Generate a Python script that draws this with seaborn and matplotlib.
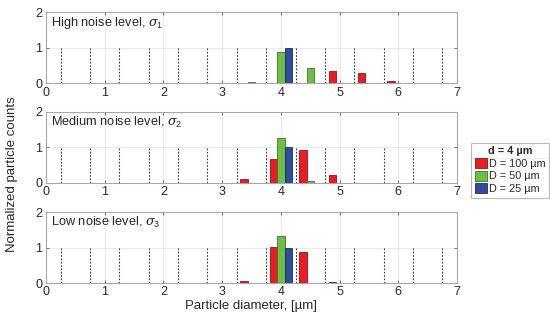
import numpy as np
import pandas as pd
import matplotlib
matplotlib.use('Agg')
import matplotlib.pyplot as plt
import matplotlib.colors as mcolors
from matplotlib.lines import Line2D
import seaborn as sns

# ---- data ----
bins = [3.5, 4.0, 4.5, 5.0, 5.5, 6.0, 6.5]
series = ["D = 100 µm", "D = 50 µm", "D = 25 µm"]

high_d100 = [0.00, 0.00, 0.00, 0.35, 0.28, 0.06, 0.01]
high_d50 = [0.03, 0.88, 0.42, 0.00, 0.00, 0.00, 0.00]
high_d25 = [0.00, 1.00, 0.00, 0.00, 0.00, 0.00, 0.00]

med_d100 = [0.10, 0.68, 0.93, 0.22, 0.01, 0.00, 0.00]
med_d50 = [0.00, 1.27, 0.05, 0.00, 0.00, 0.00, 0.00]
med_d25 = [0.00, 1.00, 0.00, 0.00, 0.00, 0.00, 0.00]

low_d100 = [0.06, 1.02, 0.87, 0.03, 0.00, 0.00, 0.00]
low_d50 = [0.00, 1.32, 0.00, 0.00, 0.00, 0.00, 0.00]
low_d25 = [0.00, 1.00, 0.00, 0.00, 0.00, 0.00, 0.00]

panel_titles = ["High noise level, $\\sigma_1$",
                "Medium noise level, $\\sigma_2$",
                "Low noise level, $\\sigma_3$"]
panel_values = [(high_d100, high_d50, high_d25),
                (med_d100, med_d50, med_d25),
                (low_d100, low_d50, low_d25)]

# dotted bin edges
bin_edges = np.arange(0.25, 7.0, 0.5)

colors = ["#ed1c24", "#6dbe45", "#2e4da0"]

sns.set_style("white")
plt.rcParams['font.family'] = ['Liberation Sans', 'DejaVu Sans']
plt.rcParams['mathtext.fontset'] = 'custom'
plt.rcParams['mathtext.it'] = 'DejaVu Serif:italic'
plt.rcParams['mathtext.rm'] = 'Liberation Sans'

fig = plt.figure(figsize=(5.5, 3.22), dpi=100)
left, width, height = 0.0836, 0.7473, 0.2205
bottoms = [0.742, 0.4317, 0.1211]

for i, (title, vals) in enumerate(zip(panel_titles, panel_values)):
    ax = fig.add_axes([left, bottoms[i], width, height])
    rows = []
    for name, v in zip(series, vals):
        for b, y in zip(bins, v):
            if y > 0:
                rows.append({"bin": b, "series": name, "count": y})
    df = pd.DataFrame(rows)

    ax.grid(True, color="#e6e6e6", lw=0.6)
    ax.set_axisbelow(True)
    ax.vlines(bin_edges, 0, 1, colors="#333333", linestyles=(0, (1.5, 1.5)),
              lw=0.8, zorder=1)

    sns.barplot(data=df, x="bin", y="count", hue="series", hue_order=series,
                palette=colors, native_scale=True, width=0.75, errorbar=None,
                legend=False, saturation=1, ax=ax, zorder=3)
    for p in ax.patches:
        fc = np.array(mcolors.to_rgb(p.get_facecolor()))
        p.set_edgecolor(fc * 0.6)
        p.set_linewidth(0.6)

    ax.set_xlim(0, 7)
    ax.set_ylim(0, 2)
    ax.set_xticks(range(8))
    ax.set_yticks([0, 1, 2])
    ax.set_xlabel("")
    ax.set_ylabel("")
    ax.tick_params(direction="in", length=2.5, width=0.6, color="#555555",
                   labelsize=9, pad=2.5, top=True, right=True, bottom=True, left=True)
    for s in ax.spines.values():
        s.set_color("#a6a6a6")
        s.set_linewidth(0.8)
    ax.text(0.012, 0.85, title, transform=ax.transAxes, fontsize=9.2,
            va="center", ha="left")

    if i == 2:
        ax.set_xlabel("Particle diameter, [µm]", fontsize=9.5, labelpad=1)

fig.text(0.022, 0.46, "Normalized particle counts", rotation=90,
         fontsize=9.5, va="center", ha="center")

handles = [plt.Rectangle((0, 0), 1, 1, facecolor=c,
                         edgecolor=np.array(mcolors.to_rgb(c)) * 0.6, lw=0.6)
           for c in colors]
leg = fig.legend(handles, series, title="d = 4 µm", loc="upper left",
                 bbox_to_anchor=(0.857, 0.557), fontsize=7.8,
                 title_fontproperties={'weight': 'bold', 'size': 7.8},
                 handlelength=1.1, handleheight=1.1, handletextpad=0.15,
                 borderpad=0.35, labelspacing=0.15, borderaxespad=0,
                 frameon=True, fancybox=False)
leg.get_frame().set_edgecolor("#a6a6a6")
leg.get_frame().set_linewidth(0.8)

# separator line under the legend title
fig.canvas.draw()
fb = leg.get_frame().get_window_extent()
tb = leg.get_title().get_window_extent()
inv = fig.transFigure.inverted()
(x0, ysep), (x1, _) = inv.transform([(fb.x0, tb.y0 - 2), (fb.x1, tb.y0 - 2)])
fig.add_artist(Line2D([x0, x1], [ysep, ysep], color="#a6a6a6", lw=0.8,
                      transform=fig.transFigure))

plt.savefig("out.png", dpi=100)
plt.close()
